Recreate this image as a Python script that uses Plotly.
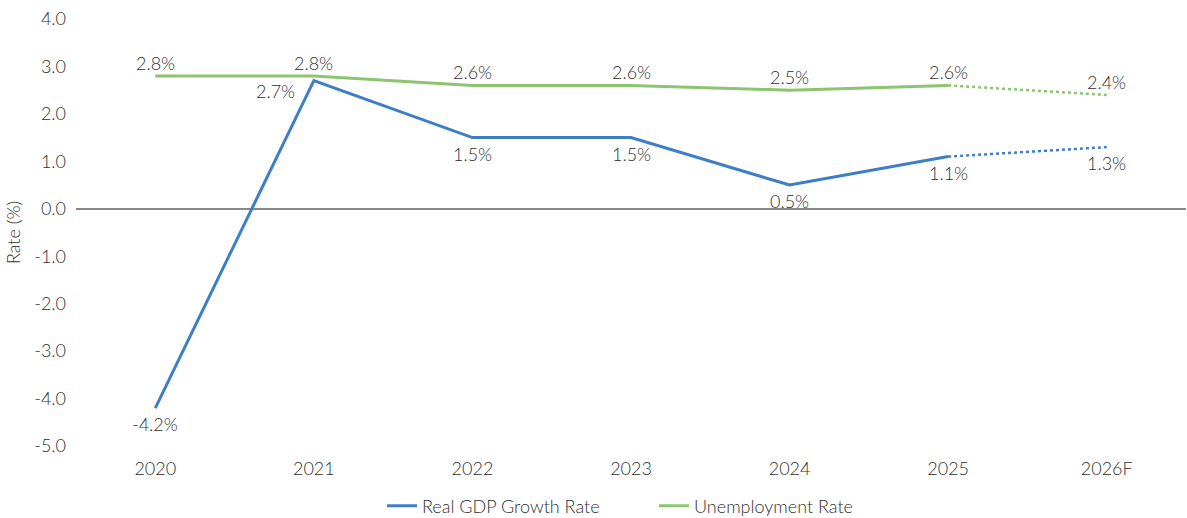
import plotly.graph_objects as go

# Years on the category axis
years = ["2020", "2021", "2022", "2023", "2024", "2025", "2026F"]

# Rates in percent
gdp_growth = [-4.2, 2.7, 1.5, 1.5, 0.5, 1.1, 1.3]
unemployment = [2.8, 2.8, 2.6, 2.6, 2.5, 2.6, 2.4]

# Y-axis ticks
y_ticks = [4, 3, 2, 1, 0, -1, -2, -3, -4, -5]

# Index of the last actual value; the rest is forecast (dotted)
last_actual = 5

BLUE = "#3D7EC6"
GREEN = "#8DC46F"
TEXT = "#303030"
FONT = "Lato"
FS = 18
WEIGHT = 300

fig = go.Figure()

for name, vals, color in [("Real GDP Growth Rate", gdp_growth, BLUE),
                          ("Unemployment Rate", unemployment, GREEN)]:
    fig.add_trace(go.Scatter(
        x=years[:last_actual + 1], y=vals[:last_actual + 1],
        mode="lines", name=name,
        line=dict(color=color, width=3),
    ))
    fig.add_trace(go.Scatter(
        x=years[last_actual:], y=vals[last_actual:],
        mode="lines", showlegend=False, hoverinfo="skip",
        line=dict(color=color, width=2.5, dash="dot"),
    ))

label_font = dict(size=FS, color=TEXT, family=FONT, weight=WEIGHT)

# Value labels: unemployment above the line, GDP below
for i, v in enumerate(unemployment):
    fig.add_annotation(x=i, y=v, text=f"{v:.1f}%", showarrow=False,
                       yshift=13, font=label_font)
for i, v in enumerate(gdp_growth):
    if i == 1:
        fig.add_annotation(x=i, y=v, text=f"{v:.1f}%", showarrow=False,
                           xshift=-38, yshift=-10, font=label_font)
    else:
        fig.add_annotation(x=i, y=v, text=f"{v:.1f}%", showarrow=False,
                           yshift=-16, font=label_font)

fig.update_layout(
    width=1187, height=518,
    margin=dict(l=76, r=1, t=19, b=72, autoexpand=False),
    paper_bgcolor="white", plot_bgcolor="white",
    font=label_font,
    showlegend=True,
    legend=dict(orientation="h", xref="container", x=382 / 1187, xanchor="left",
                yref="container", y=12 / 518, yanchor="middle",
                font=label_font,
                itemwidth=30, entrywidth=227, entrywidthmode="pixels",
                traceorder="normal"),
    xaxis=dict(
        type="category", range=[-0.5, 6.5],
        showgrid=False, showline=False, zeroline=False,
        ticks="", ticklabelstandoff=10,
        tickfont=label_font,
    ),
    yaxis=dict(
        range=[-5, 4],
        tickvals=y_ticks, ticktext=[f"{t:.1f}" for t in y_ticks],
        showgrid=False, showline=False,
        zeroline=True, zerolinecolor="#888888", zerolinewidth=1.5,
        ticks="", ticklabelstandoff=9,
        tickfont=label_font,
        title=dict(text="Rate (%)", standoff=8, font=label_font),
    ),
)

fig.write_html("out.html")
